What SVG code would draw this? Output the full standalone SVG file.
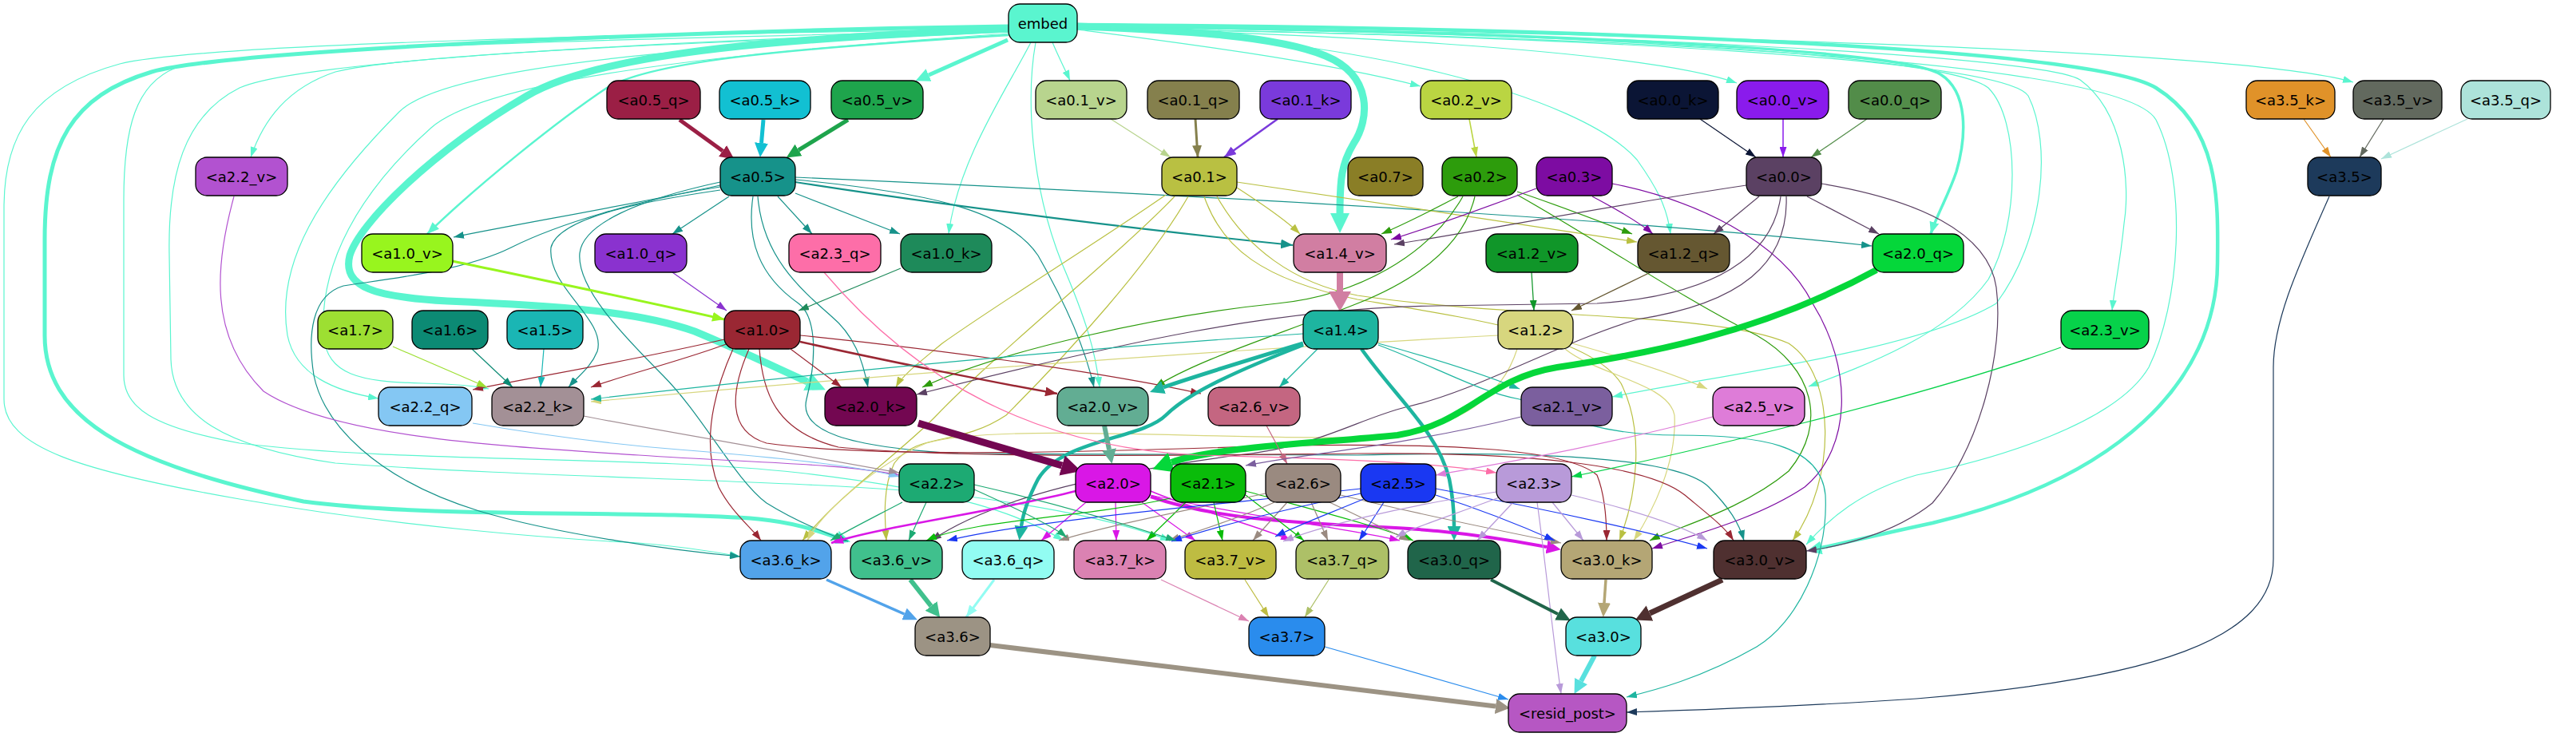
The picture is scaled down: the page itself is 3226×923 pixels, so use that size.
<svg xmlns="http://www.w3.org/2000/svg" width="3226" height="923" viewBox="0 0 3226 923">
<style>
.e path{fill:none;stroke-linecap:butt}
.n rect{stroke:#000;stroke-width:1.3}
.n text{font-family:"DejaVu Sans","Liberation Sans",sans-serif;font-size:18px;text-anchor:middle;fill:#000}
</style>
<defs>
<marker id="s5af5cf" viewBox="0 0 10 10" refX="10" refY="5" markerWidth="13" markerHeight="9" markerUnits="userSpaceOnUse" orient="auto" preserveAspectRatio="none"><path d="M0,0L10,5L0,10z" fill="#5af5cf"/></marker>
<marker id="s16928a" viewBox="0 0 10 10" refX="10" refY="5" markerWidth="13" markerHeight="9" markerUnits="userSpaceOnUse" orient="auto" preserveAspectRatio="none"><path d="M0,0L10,5L0,10z" fill="#16928a"/></marker>
<marker id="sb9c042" viewBox="0 0 10 10" refX="10" refY="5" markerWidth="13" markerHeight="9" markerUnits="userSpaceOnUse" orient="auto" preserveAspectRatio="none"><path d="M0,0L10,5L0,10z" fill="#b9c042"/></marker>
<marker id="sd7d67e" viewBox="0 0 10 10" refX="10" refY="5" markerWidth="13" markerHeight="9" markerUnits="userSpaceOnUse" orient="auto" preserveAspectRatio="none"><path d="M0,0L10,5L0,10z" fill="#d7d67e"/></marker>
<marker id="s2d9c0c" viewBox="0 0 10 10" refX="10" refY="5" markerWidth="13" markerHeight="9" markerUnits="userSpaceOnUse" orient="auto" preserveAspectRatio="none"><path d="M0,0L10,5L0,10z" fill="#2d9c0c"/></marker>
<marker id="s7d0ca2" viewBox="0 0 10 10" refX="10" refY="5" markerWidth="13" markerHeight="9" markerUnits="userSpaceOnUse" orient="auto" preserveAspectRatio="none"><path d="M0,0L10,5L0,10z" fill="#7d0ca2"/></marker>
<marker id="s5b4163" viewBox="0 0 10 10" refX="10" refY="5" markerWidth="13" markerHeight="9" markerUnits="userSpaceOnUse" orient="auto" preserveAspectRatio="none"><path d="M0,0L10,5L0,10z" fill="#5b4163"/></marker>
<marker id="s9a2733" viewBox="0 0 10 10" refX="10" refY="5" markerWidth="13" markerHeight="9" markerUnits="userSpaceOnUse" orient="auto" preserveAspectRatio="none"><path d="M0,0L10,5L0,10z" fill="#9a2733"/></marker>
<marker id="s1eb5a0" viewBox="0 0 10 10" refX="10" refY="5" markerWidth="13" markerHeight="9" markerUnits="userSpaceOnUse" orient="auto" preserveAspectRatio="none"><path d="M0,0L10,5L0,10z" fill="#1eb5a0"/></marker>
<marker id="sd917e6" viewBox="0 0 10 10" refX="10" refY="5" markerWidth="13" markerHeight="9" markerUnits="userSpaceOnUse" orient="auto" preserveAspectRatio="none"><path d="M0,0L10,5L0,10z" fill="#d917e6"/></marker>
<marker id="s0abc0a" viewBox="0 0 10 10" refX="10" refY="5" markerWidth="13" markerHeight="9" markerUnits="userSpaceOnUse" orient="auto" preserveAspectRatio="none"><path d="M0,0L10,5L0,10z" fill="#0abc0a"/></marker>
<marker id="s9a8a80" viewBox="0 0 10 10" refX="10" refY="5" markerWidth="13" markerHeight="9" markerUnits="userSpaceOnUse" orient="auto" preserveAspectRatio="none"><path d="M0,0L10,5L0,10z" fill="#9a8a80"/></marker>
<marker id="s1a38f2" viewBox="0 0 10 10" refX="10" refY="5" markerWidth="13" markerHeight="9" markerUnits="userSpaceOnUse" orient="auto" preserveAspectRatio="none"><path d="M0,0L10,5L0,10z" fill="#1a38f2"/></marker>
<marker id="sb89ad9" viewBox="0 0 10 10" refX="10" refY="5" markerWidth="13" markerHeight="9" markerUnits="userSpaceOnUse" orient="auto" preserveAspectRatio="none"><path d="M0,0L10,5L0,10z" fill="#b89ad9"/></marker>
<marker id="s1daa73" viewBox="0 0 10 10" refX="10" refY="5" markerWidth="13" markerHeight="9" markerUnits="userSpaceOnUse" orient="auto" preserveAspectRatio="none"><path d="M0,0L10,5L0,10z" fill="#1daa73"/></marker>
<marker id="sb8d48e" viewBox="0 0 10 10" refX="10" refY="5" markerWidth="13" markerHeight="9" markerUnits="userSpaceOnUse" orient="auto" preserveAspectRatio="none"><path d="M0,0L10,5L0,10z" fill="#b8d48e"/></marker>
<marker id="sbad542" viewBox="0 0 10 10" refX="10" refY="5" markerWidth="13" markerHeight="9" markerUnits="userSpaceOnUse" orient="auto" preserveAspectRatio="none"><path d="M0,0L10,5L0,10z" fill="#bad542"/></marker>
<marker id="s0b1535" viewBox="0 0 10 10" refX="10" refY="5" markerWidth="13" markerHeight="9" markerUnits="userSpaceOnUse" orient="auto" preserveAspectRatio="none"><path d="M0,0L10,5L0,10z" fill="#0b1535"/></marker>
<marker id="s8a1bec" viewBox="0 0 10 10" refX="10" refY="5" markerWidth="13" markerHeight="9" markerUnits="userSpaceOnUse" orient="auto" preserveAspectRatio="none"><path d="M0,0L10,5L0,10z" fill="#8a1bec"/></marker>
<marker id="s528c49" viewBox="0 0 10 10" refX="10" refY="5" markerWidth="13" markerHeight="9" markerUnits="userSpaceOnUse" orient="auto" preserveAspectRatio="none"><path d="M0,0L10,5L0,10z" fill="#528c49"/></marker>
<marker id="se09229" viewBox="0 0 10 10" refX="10" refY="5" markerWidth="13" markerHeight="9" markerUnits="userSpaceOnUse" orient="auto" preserveAspectRatio="none"><path d="M0,0L10,5L0,10z" fill="#e09229"/></marker>
<marker id="s62695e" viewBox="0 0 10 10" refX="10" refY="5" markerWidth="13" markerHeight="9" markerUnits="userSpaceOnUse" orient="auto" preserveAspectRatio="none"><path d="M0,0L10,5L0,10z" fill="#62695e"/></marker>
<marker id="sade3da" viewBox="0 0 10 10" refX="10" refY="5" markerWidth="13" markerHeight="9" markerUnits="userSpaceOnUse" orient="auto" preserveAspectRatio="none"><path d="M0,0L10,5L0,10z" fill="#ade3da"/></marker>
<marker id="sdb82b2" viewBox="0 0 10 10" refX="10" refY="5" markerWidth="13" markerHeight="9" markerUnits="userSpaceOnUse" orient="auto" preserveAspectRatio="none"><path d="M0,0L10,5L0,10z" fill="#db82b2"/></marker>
<marker id="sbebc42" viewBox="0 0 10 10" refX="10" refY="5" markerWidth="13" markerHeight="9" markerUnits="userSpaceOnUse" orient="auto" preserveAspectRatio="none"><path d="M0,0L10,5L0,10z" fill="#bebc42"/></marker>
<marker id="sadc067" viewBox="0 0 10 10" refX="10" refY="5" markerWidth="13" markerHeight="9" markerUnits="userSpaceOnUse" orient="auto" preserveAspectRatio="none"><path d="M0,0L10,5L0,10z" fill="#adc067"/></marker>
<marker id="s2a8ced" viewBox="0 0 10 10" refX="10" refY="5" markerWidth="13" markerHeight="9" markerUnits="userSpaceOnUse" orient="auto" preserveAspectRatio="none"><path d="M0,0L10,5L0,10z" fill="#2a8ced"/></marker>
<marker id="s1d3a5b" viewBox="0 0 10 10" refX="10" refY="5" markerWidth="13" markerHeight="9" markerUnits="userSpaceOnUse" orient="auto" preserveAspectRatio="none"><path d="M0,0L10,5L0,10z" fill="#1d3a5b"/></marker>
<marker id="sb252d0" viewBox="0 0 10 10" refX="10" refY="5" markerWidth="13" markerHeight="9" markerUnits="userSpaceOnUse" orient="auto" preserveAspectRatio="none"><path d="M0,0L10,5L0,10z" fill="#b252d0"/></marker>
<marker id="s84c7f3" viewBox="0 0 10 10" refX="10" refY="5" markerWidth="13" markerHeight="9" markerUnits="userSpaceOnUse" orient="auto" preserveAspectRatio="none"><path d="M0,0L10,5L0,10z" fill="#84c7f3"/></marker>
<marker id="sa39096" viewBox="0 0 10 10" refX="10" refY="5" markerWidth="13" markerHeight="9" markerUnits="userSpaceOnUse" orient="auto" preserveAspectRatio="none"><path d="M0,0L10,5L0,10z" fill="#a39096"/></marker>
<marker id="s8a32cf" viewBox="0 0 10 10" refX="10" refY="5" markerWidth="13" markerHeight="9" markerUnits="userSpaceOnUse" orient="auto" preserveAspectRatio="none"><path d="M0,0L10,5L0,10z" fill="#8a32cf"/></marker>
<marker id="s1e8a5a" viewBox="0 0 10 10" refX="10" refY="5" markerWidth="13" markerHeight="9" markerUnits="userSpaceOnUse" orient="auto" preserveAspectRatio="none"><path d="M0,0L10,5L0,10z" fill="#1e8a5a"/></marker>
<marker id="s9ddf32" viewBox="0 0 10 10" refX="10" refY="5" markerWidth="13" markerHeight="9" markerUnits="userSpaceOnUse" orient="auto" preserveAspectRatio="none"><path d="M0,0L10,5L0,10z" fill="#9ddf32"/></marker>
<marker id="s0c8a74" viewBox="0 0 10 10" refX="10" refY="5" markerWidth="13" markerHeight="9" markerUnits="userSpaceOnUse" orient="auto" preserveAspectRatio="none"><path d="M0,0L10,5L0,10z" fill="#0c8a74"/></marker>
<marker id="s1ab6b4" viewBox="0 0 10 10" refX="10" refY="5" markerWidth="13" markerHeight="9" markerUnits="userSpaceOnUse" orient="auto" preserveAspectRatio="none"><path d="M0,0L10,5L0,10z" fill="#1ab6b4"/></marker>
<marker id="s109629" viewBox="0 0 10 10" refX="10" refY="5" markerWidth="13" markerHeight="9" markerUnits="userSpaceOnUse" orient="auto" preserveAspectRatio="none"><path d="M0,0L10,5L0,10z" fill="#109629"/></marker>
<marker id="s655731" viewBox="0 0 10 10" refX="10" refY="5" markerWidth="13" markerHeight="9" markerUnits="userSpaceOnUse" orient="auto" preserveAspectRatio="none"><path d="M0,0L10,5L0,10z" fill="#655731"/></marker>
<marker id="s07d24a" viewBox="0 0 10 10" refX="10" refY="5" markerWidth="13" markerHeight="9" markerUnits="userSpaceOnUse" orient="auto" preserveAspectRatio="none"><path d="M0,0L10,5L0,10z" fill="#07d24a"/></marker>
<marker id="sfd6ea8" viewBox="0 0 10 10" refX="10" refY="5" markerWidth="13" markerHeight="9" markerUnits="userSpaceOnUse" orient="auto" preserveAspectRatio="none"><path d="M0,0L10,5L0,10z" fill="#fd6ea8"/></marker>
<marker id="sc46681" viewBox="0 0 10 10" refX="10" refY="5" markerWidth="13" markerHeight="9" markerUnits="userSpaceOnUse" orient="auto" preserveAspectRatio="none"><path d="M0,0L10,5L0,10z" fill="#c46681"/></marker>
<marker id="s7b5f9e" viewBox="0 0 10 10" refX="10" refY="5" markerWidth="13" markerHeight="9" markerUnits="userSpaceOnUse" orient="auto" preserveAspectRatio="none"><path d="M0,0L10,5L0,10z" fill="#7b5f9e"/></marker>
<marker id="sde7cd8" viewBox="0 0 10 10" refX="10" refY="5" markerWidth="13" markerHeight="9" markerUnits="userSpaceOnUse" orient="auto" preserveAspectRatio="none"><path d="M0,0L10,5L0,10z" fill="#de7cd8"/></marker>
<marker id="m5af5cf" viewBox="0 0 10 10" refX="10" refY="5" markerWidth="15" markerHeight="12" markerUnits="userSpaceOnUse" orient="auto" preserveAspectRatio="none"><path d="M0,0L10,5L0,10z" fill="#5af5cf"/></marker>
<marker id="m16928a" viewBox="0 0 10 10" refX="10" refY="5" markerWidth="15" markerHeight="12" markerUnits="userSpaceOnUse" orient="auto" preserveAspectRatio="none"><path d="M0,0L10,5L0,10z" fill="#16928a"/></marker>
<marker id="m85804d" viewBox="0 0 10 10" refX="10" refY="5" markerWidth="15" markerHeight="12" markerUnits="userSpaceOnUse" orient="auto" preserveAspectRatio="none"><path d="M0,0L10,5L0,10z" fill="#85804d"/></marker>
<marker id="m7a3adb" viewBox="0 0 10 10" refX="10" refY="5" markerWidth="15" markerHeight="12" markerUnits="userSpaceOnUse" orient="auto" preserveAspectRatio="none"><path d="M0,0L10,5L0,10z" fill="#7a3adb"/></marker>
<marker id="m9a2733" viewBox="0 0 10 10" refX="10" refY="5" markerWidth="15" markerHeight="12" markerUnits="userSpaceOnUse" orient="auto" preserveAspectRatio="none"><path d="M0,0L10,5L0,10z" fill="#9a2733"/></marker>
<marker id="m98f51e" viewBox="0 0 10 10" refX="10" refY="5" markerWidth="15" markerHeight="12" markerUnits="userSpaceOnUse" orient="auto" preserveAspectRatio="none"><path d="M0,0L10,5L0,10z" fill="#98f51e"/></marker>
<marker id="md917e6" viewBox="0 0 10 10" refX="10" refY="5" markerWidth="15" markerHeight="12" markerUnits="userSpaceOnUse" orient="auto" preserveAspectRatio="none"><path d="M0,0L10,5L0,10z" fill="#d917e6"/></marker>
<marker id="m92fcf2" viewBox="0 0 10 10" refX="10" refY="5" markerWidth="15" markerHeight="12" markerUnits="userSpaceOnUse" orient="auto" preserveAspectRatio="none"><path d="M0,0L10,5L0,10z" fill="#92fcf2"/></marker>
<marker id="L5af5cf" viewBox="0 0 10 10" refX="0" refY="5" markerWidth="18" markerHeight="17" markerUnits="userSpaceOnUse" orient="auto" preserveAspectRatio="none"><path d="M0,0L10,5L0,10z" fill="#5af5cf"/></marker>
<marker id="L9b1f45" viewBox="0 0 10 10" refX="0" refY="5" markerWidth="18" markerHeight="17" markerUnits="userSpaceOnUse" orient="auto" preserveAspectRatio="none"><path d="M0,0L10,5L0,10z" fill="#9b1f45"/></marker>
<marker id="L12c0d2" viewBox="0 0 10 10" refX="0" refY="5" markerWidth="18" markerHeight="17" markerUnits="userSpaceOnUse" orient="auto" preserveAspectRatio="none"><path d="M0,0L10,5L0,10z" fill="#12c0d2"/></marker>
<marker id="L1ea44c" viewBox="0 0 10 10" refX="0" refY="5" markerWidth="18" markerHeight="17" markerUnits="userSpaceOnUse" orient="auto" preserveAspectRatio="none"><path d="M0,0L10,5L0,10z" fill="#1ea44c"/></marker>
<marker id="L1eb5a0" viewBox="0 0 10 10" refX="0" refY="5" markerWidth="18" markerHeight="17" markerUnits="userSpaceOnUse" orient="auto" preserveAspectRatio="none"><path d="M0,0L10,5L0,10z" fill="#1eb5a0"/></marker>
<marker id="Ld917e6" viewBox="0 0 10 10" refX="0" refY="5" markerWidth="18" markerHeight="17" markerUnits="userSpaceOnUse" orient="auto" preserveAspectRatio="none"><path d="M0,0L10,5L0,10z" fill="#d917e6"/></marker>
<marker id="L62ad93" viewBox="0 0 10 10" refX="0" refY="5" markerWidth="18" markerHeight="18" markerUnits="userSpaceOnUse" orient="auto" preserveAspectRatio="none"><path d="M0,0L10,5L0,10z" fill="#62ad93"/></marker>
<marker id="L52a3ea" viewBox="0 0 10 10" refX="0" refY="5" markerWidth="18" markerHeight="16" markerUnits="userSpaceOnUse" orient="auto" preserveAspectRatio="none"><path d="M0,0L10,5L0,10z" fill="#52a3ea"/></marker>
<marker id="L40c08d" viewBox="0 0 10 10" refX="0" refY="5" markerWidth="18" markerHeight="19" markerUnits="userSpaceOnUse" orient="auto" preserveAspectRatio="none"><path d="M0,0L10,5L0,10z" fill="#40c08d"/></marker>
<marker id="L20654a" viewBox="0 0 10 10" refX="0" refY="5" markerWidth="18" markerHeight="17" markerUnits="userSpaceOnUse" orient="auto" preserveAspectRatio="none"><path d="M0,0L10,5L0,10z" fill="#20654a"/></marker>
<marker id="Lb4a675" viewBox="0 0 10 10" refX="0" refY="5" markerWidth="18" markerHeight="16" markerUnits="userSpaceOnUse" orient="auto" preserveAspectRatio="none"><path d="M0,0L10,5L0,10z" fill="#b4a675"/></marker>
<marker id="L58e0de" viewBox="0 0 10 10" refX="0" refY="5" markerWidth="18" markerHeight="18" markerUnits="userSpaceOnUse" orient="auto" preserveAspectRatio="none"><path d="M0,0L10,5L0,10z" fill="#58e0de"/></marker>
<marker id="L9c9384" viewBox="0 0 10 10" refX="0" refY="5" markerWidth="18" markerHeight="19" markerUnits="userSpaceOnUse" orient="auto" preserveAspectRatio="none"><path d="M0,0L10,5L0,10z" fill="#9c9384"/></marker>
<marker id="L4f3030" viewBox="0 0 10 10" refX="0" refY="5" markerWidth="20" markerHeight="21" markerUnits="userSpaceOnUse" orient="auto" preserveAspectRatio="none"><path d="M0,0L10,5L0,10z" fill="#4f3030"/></marker>
<marker id="X5af5cf" viewBox="0 0 10 10" refX="0" refY="5" markerWidth="25" markerHeight="24" markerUnits="userSpaceOnUse" orient="auto" preserveAspectRatio="none"><path d="M0,0L10,5L0,10z" fill="#5af5cf"/></marker>
<marker id="Xd17ea2" viewBox="0 0 10 10" refX="0" refY="5" markerWidth="25" markerHeight="28" markerUnits="userSpaceOnUse" orient="auto" preserveAspectRatio="none"><path d="M0,0L10,5L0,10z" fill="#d17ea2"/></marker>
<marker id="X730751" viewBox="0 0 10 10" refX="0" refY="5" markerWidth="25" markerHeight="26" markerUnits="userSpaceOnUse" orient="auto" preserveAspectRatio="none"><path d="M0,0L10,5L0,10z" fill="#730751"/></marker>
<marker id="X05d73a" viewBox="0 0 10 10" refX="0" refY="5" markerWidth="25" markerHeight="26" markerUnits="userSpaceOnUse" orient="auto" preserveAspectRatio="none"><path d="M0,0L10,5L0,10z" fill="#05d73a"/></marker>
</defs>
<rect width="3226" height="923" fill="#fff"/>
<g id="connectors" class="e">
<path d="M1262,50 L1163,94" stroke="#5af5cf" stroke-width="5" marker-end="url(#L5af5cf)"/>
<path d="M1318,53 C1325,70 1333,85 1340,101" stroke="#5af5cf" stroke-width="1.2" marker-end="url(#s5af5cf)"/>
<path d="M1291,53 C1262,110 1200,200 1188,293" stroke="#5af5cf" stroke-width="1.2" marker-end="url(#s5af5cf)"/>
<path d="M1349,33 C1480,38 1600,45 1660,70 C1720,95 1715,150 1695,180 C1680,205 1678,225 1678,267" stroke="#5af5cf" stroke-width="9" marker-end="url(#X5af5cf)"/>
<path d="M1349,37 C1450,50 1650,75 1779,108" stroke="#5af5cf" stroke-width="1.2" marker-end="url(#s5af5cf)"/>
<path d="M1349,36 C1600,40 2050,60 2175,104" stroke="#5af5cf" stroke-width="1.2" marker-end="url(#s5af5cf)"/>
<path d="M1349,35 C1700,45 1980,120 2050,200 C2075,235 2088,260 2092,293" stroke="#5af5cf" stroke-width="1.2" marker-end="url(#s5af5cf)"/>
<path d="M1349,32 C1900,40 2380,60 2430,93 C2465,115 2463,170 2450,215 C2440,245 2425,270 2418,293" stroke="#5af5cf" stroke-width="3.5" marker-end="url(#m5af5cf)"/>
<path d="M1349,34 C2000,40 2800,60 2947,103" stroke="#5af5cf" stroke-width="1.2" marker-end="url(#s5af5cf)"/>
<path d="M1349,34 C2000,40 2560,70 2605,100 C2660,140 2668,230 2660,280 C2655,330 2648,360 2645,389" stroke="#5af5cf" stroke-width="1.2" marker-end="url(#s5af5cf)"/>
<path d="M1349,31 C2000,35 2620,60 2700,110 C2780,160 2778,250 2777,330 C2776,480 2650,600 2420,655 C2350,670 2310,680 2281,686" stroke="#5af5cf" stroke-width="4.5" marker-end="url(#L5af5cf)"/>
<path d="M1349,34 C2000,40 2440,70 2490,110 C2530,150 2530,280 2490,350 C2440,420 2330,460 2265,484" stroke="#5af5cf" stroke-width="1.2" marker-end="url(#s5af5cf)"/>
<path d="M1349,35 C2000,45 2510,75 2540,120 C2570,180 2560,300 2500,380 C2400,440 2150,470 2019,497" stroke="#5af5cf" stroke-width="1.2" marker-end="url(#s5af5cf)"/>
<path d="M1349,36 C2100,45 2660,80 2700,150 C2740,230 2730,380 2691,460 C2650,530 2500,575 2400,595 C2330,615 2290,650 2262,682" stroke="#5af5cf" stroke-width="1.2" marker-end="url(#s5af5cf)"/>
<path d="M1263,40 C1000,48 520,65 420,90 C360,110 330,150 314,197" stroke="#5af5cf" stroke-width="1.2" marker-end="url(#s5af5cf)"/>
<path d="M1263,44 C1000,60 820,75 760,110 C700,150 600,230 535,293" stroke="#5af5cf" stroke-width="2.5" marker-end="url(#m5af5cf)"/>
<path d="M1263,36 C1000,48 760,62 660,120 C540,190 450,280 438,320 C428,360 470,372 560,377 C700,383 800,390 870,415 C930,440 975,462 1011,478" stroke="#5af5cf" stroke-width="9" marker-end="url(#X5af5cf)"/>
<path d="M1263,33 C900,38 300,60 190,90 C90,120 56,180 56,300 L56,420 C56,520 150,580 380,628 C550,650 800,638 950,650 C1000,655 1030,667 1048,673" stroke="#5af5cf" stroke-width="5" marker-end="url(#L5af5cf)"/>
<path d="M1263,40 C900,55 560,80 500,140 C400,240 345,330 360,420 C370,470 420,490 474,499" stroke="#5af5cf" stroke-width="1.2" marker-end="url(#s5af5cf)"/>
<path d="M1263,42 C1000,60 620,90 540,160 C450,240 400,330 405,420 C410,470 450,478 530,480 C570,481 595,483 612,487" stroke="#5af5cf" stroke-width="1.2" marker-end="url(#s5af5cf)"/>
<path d="M1263,38 C800,48 300,60 220,85 C170,105 155,160 155,250 L155,470 C155,510 190,535 300,555 C500,580 800,570 1000,592 C1200,615 1280,645 1332,677" stroke="#5af5cf" stroke-width="1.2" marker-end="url(#s5af5cf)"/>
<path d="M1263,39 C850,50 380,75 300,110 C230,145 210,220 212,320 L214,450 C216,520 280,560 420,580 C700,600 1000,600 1200,620 C1350,640 1420,660 1466,677" stroke="#5af5cf" stroke-width="1.2" marker-end="url(#s5af5cf)"/>
<path d="M1263,37 C800,42 250,55 150,80 C40,110 5,170 5,260 L5,500 C5,560 100,590 300,625 C500,660 700,675 800,680 C850,684 890,690 927,697" stroke="#5af5cf" stroke-width="1.2" marker-end="url(#s5af5cf)"/>
<path d="M1297,53 C1285,120 1290,230 1330,330 C1360,400 1372,440 1377,485" stroke="#5af5cf" stroke-width="1.2" marker-end="url(#s5af5cf)"/>
<path d="M851,150 L905,189" stroke="#9b1f45" stroke-width="5" marker-end="url(#L9b1f45)"/>
<path d="M956,150 L953.5,179" stroke="#12c0d2" stroke-width="5" marker-end="url(#L12c0d2)"/>
<path d="M1062,150 L1000,188" stroke="#1ea44c" stroke-width="5" marker-end="url(#L1ea44c)"/>
<path d="M1391,149 L1466,197" stroke="#b8d48e" stroke-width="1.2" marker-end="url(#sb8d48e)"/>
<path d="M1497,149 L1500,197" stroke="#85804d" stroke-width="3" marker-end="url(#m85804d)"/>
<path d="M1600,149 L1533,197" stroke="#7a3adb" stroke-width="2.5" marker-end="url(#m7a3adb)"/>
<path d="M1840,149 L1849,197" stroke="#bad542" stroke-width="1.5" marker-end="url(#sbad542)"/>
<path d="M2129,149 L2199,197" stroke="#0b1535" stroke-width="1.2" marker-end="url(#s0b1535)"/>
<path d="M2233,149 L2233,197" stroke="#8a1bec" stroke-width="1.5" marker-end="url(#s8a1bec)"/>
<path d="M2338,149 L2268,197" stroke="#528c49" stroke-width="1.2" marker-end="url(#s528c49)"/>
<path d="M2885,149 L2919,197" stroke="#e09229" stroke-width="1.2" marker-end="url(#se09229)"/>
<path d="M2985,149 L2955,197" stroke="#62695e" stroke-width="1.2" marker-end="url(#s62695e)"/>
<path d="M3090,149 L2982,199" stroke="#ade3da" stroke-width="1.2" marker-end="url(#sade3da)"/>
<path d="M902,232 C800,255 650,280 568,297" stroke="#16928a" stroke-width="1.2" marker-end="url(#s16928a)"/>
<path d="M913,246 L842,293" stroke="#16928a" stroke-width="1.2" marker-end="url(#s16928a)"/>
<path d="M974,246 L1017,293" stroke="#16928a" stroke-width="1.2" marker-end="url(#s16928a)"/>
<path d="M996,242 L1127,293" stroke="#16928a" stroke-width="1.2" marker-end="url(#s16928a)"/>
<path d="M996,228 C1200,260 1450,290 1619,307" stroke="#16928a" stroke-width="2.2" marker-end="url(#m16928a)"/>
<path d="M996,222 C1400,240 2000,270 2344,308" stroke="#16928a" stroke-width="1.2" marker-end="url(#s16928a)"/>
<path d="M996,225 C1150,240 1260,260 1300,320 C1340,390 1360,440 1370,485" stroke="#16928a" stroke-width="1.2" marker-end="url(#s16928a)"/>
<path d="M949,246 C955,320 1000,360 1040,395 C1070,420 1080,450 1087,485" stroke="#16928a" stroke-width="1.2" marker-end="url(#s16928a)"/>
<path d="M943,246 C935,300 950,345 1000,380 C1020,395 1025,440 1010,500 C1000,540 1060,560 1200,568 L1700,570 C1900,565 2100,570 2140,610 C2165,635 2178,655 2184,677" stroke="#16928a" stroke-width="1.2" marker-end="url(#s16928a)"/>
<path d="M902,238 C820,250 700,270 690,310 C685,360 760,400 748,440 C740,460 725,470 712,485" stroke="#16928a" stroke-width="1.2" marker-end="url(#s16928a)"/>
<path d="M902,234 C800,250 700,280 640,310 C580,340 480,350 430,358 C390,370 385,420 393,470 C405,530 470,600 600,640 C700,670 850,690 927,697" stroke="#16928a" stroke-width="1.2" marker-end="url(#s16928a)"/>
<path d="M902,228 C800,250 730,280 726,317 C722,360 780,420 830,470 C880,520 920,600 960,630 C1000,655 1040,670 1062,678" stroke="#16928a" stroke-width="1.2" marker-end="url(#s16928a)"/>
<path d="M1549,235 C1580,255 1610,275 1628,293" stroke="#b9c042" stroke-width="1.2" marker-end="url(#sb9c042)"/>
<path d="M1549,228 C1700,250 1900,280 2050,303" stroke="#b9c042" stroke-width="1.2" marker-end="url(#sb9c042)"/>
<path d="M1460,244 C1380,300 1250,380 1180,430 C1150,455 1130,470 1122,485" stroke="#b9c042" stroke-width="1.2" marker-end="url(#sb9c042)"/>
<path d="M1471,246 C1400,320 1250,440 1173,520 C1130,565 1050,620 1005,677" stroke="#b9c042" stroke-width="1.2" marker-end="url(#sb9c042)"/>
<path d="M1488,246 C1440,330 1340,440 1260,520 C1200,560 1150,540 1120,580 C1105,610 1108,650 1110,677" stroke="#b9c042" stroke-width="1.2" marker-end="url(#sb9c042)"/>
<path d="M1508,246 C1530,310 1580,350 1700,375 C1850,400 1990,420 2030,480 C2060,540 2050,620 2028,677" stroke="#b9c042" stroke-width="1.2" marker-end="url(#sb9c042)"/>
<path d="M1524,246 C1560,310 1620,355 1700,370 C1900,400 2150,390 2240,430 C2300,470 2300,600 2245,677" stroke="#b9c042" stroke-width="1.2" marker-end="url(#sb9c042)"/>
<path d="M1876,420 C1500,440 1100,470 740,503" stroke="#d7d67e" stroke-width="1.2" marker-end="url(#sd7d67e)"/>
<path d="M1969,430 C2040,450 2100,470 2138,487" stroke="#d7d67e" stroke-width="1.2" marker-end="url(#sd7d67e)"/>
<path d="M1960,437 C2000,470 2090,480 2097,520 C2100,580 2070,640 2046,677" stroke="#d7d67e" stroke-width="1.2" marker-end="url(#sd7d67e)"/>
<path d="M1900,437 C1880,500 1820,545 1700,548 C1500,550 1250,530 1160,555 C1100,580 1030,640 1011,677" stroke="#d7d67e" stroke-width="1.2" marker-end="url(#sd7d67e)"/>
<path d="M1826,246 C1790,265 1760,280 1730,293" stroke="#2d9c0c" stroke-width="1.2" marker-end="url(#s2d9c0c)"/>
<path d="M1900,240 C1960,260 2010,280 2044,293" stroke="#2d9c0c" stroke-width="1.2" marker-end="url(#s2d9c0c)"/>
<path d="M1832,246 C1790,320 1700,370 1600,380 C1450,395 1250,440 1155,485" stroke="#2d9c0c" stroke-width="1.2" marker-end="url(#s2d9c0c)"/>
<path d="M1847,246 C1830,320 1750,360 1700,380 C1600,420 1500,450 1446,485" stroke="#2d9c0c" stroke-width="1.2" marker-end="url(#s2d9c0c)"/>
<path d="M1900,244 C2000,300 2100,370 2200,420 C2270,460 2290,530 2240,590 C2180,640 2100,660 2066,677" stroke="#2d9c0c" stroke-width="1.2" marker-end="url(#s2d9c0c)"/>
<path d="M1924,236 C1860,260 1790,285 1742,300" stroke="#7d0ca2" stroke-width="1.2" marker-end="url(#s7d0ca2)"/>
<path d="M1994,246 C2030,265 2055,280 2070,293" stroke="#7d0ca2" stroke-width="1.2" marker-end="url(#s7d0ca2)"/>
<path d="M2019,230 C2120,250 2230,300 2270,380 C2320,460 2320,560 2260,610 C2200,650 2120,670 2069,687" stroke="#7d0ca2" stroke-width="1.2" marker-end="url(#s7d0ca2)"/>
<path d="M2187,232 C2000,260 1850,290 1746,306" stroke="#5b4163" stroke-width="1.2" marker-end="url(#s5b4163)"/>
<path d="M2203,246 L2146,293" stroke="#5b4163" stroke-width="1.2" marker-end="url(#s5b4163)"/>
<path d="M2263,246 L2353,293" stroke="#5b4163" stroke-width="1.2" marker-end="url(#s5b4163)"/>
<path d="M2230,246 C2220,320 2150,370 2000,380 L1800,383 C1600,385 1400,430 1148,494" stroke="#5b4163" stroke-width="1.2" marker-end="url(#s5b4163)"/>
<path d="M2237,246 C2240,330 2180,380 2050,400 C1950,430 1850,490 1760,510 C1700,525 1650,560 1550,570 C1400,590 1250,620 1166,677" stroke="#5b4163" stroke-width="1.2" marker-end="url(#s5b4163)"/>
<path d="M2281,230 C2400,250 2490,290 2500,360 C2510,440 2480,560 2420,630 C2370,670 2300,685 2262,690" stroke="#5b4163" stroke-width="1.2" marker-end="url(#s5b4163)"/>
<path d="M907,425 C800,450 680,470 592,488" stroke="#9a2733" stroke-width="1.2" marker-end="url(#s9a2733)"/>
<path d="M912,430 C860,450 780,470 740,485" stroke="#9a2733" stroke-width="1.2" marker-end="url(#s9a2733)"/>
<path d="M990,437 L1054,485" stroke="#9a2733" stroke-width="1.2" marker-end="url(#s9a2733)"/>
<path d="M1002,428 C1100,450 1250,480 1324,493" stroke="#9a2733" stroke-width="2.5" marker-end="url(#m9a2733)"/>
<path d="M1002,420 C1200,440 1400,470 1504,493" stroke="#9a2733" stroke-width="1.2" marker-end="url(#s9a2733)"/>
<path d="M918,437 C890,500 880,560 900,610 C915,640 940,660 953,677" stroke="#9a2733" stroke-width="1.2" marker-end="url(#s9a2733)"/>
<path d="M938,437 C915,490 910,540 960,555 C1100,575 1400,565 1600,558 C1800,555 1960,560 2000,595 C2010,620 2012,650 2012,677" stroke="#9a2733" stroke-width="1.2" marker-end="url(#s9a2733)"/>
<path d="M951,437 C955,490 970,540 1050,560 C1200,575 1500,570 1700,568 C1900,566 2060,580 2110,620 C2140,645 2160,660 2171,677" stroke="#9a2733" stroke-width="1.2" marker-end="url(#s9a2733)"/>
<path d="M1632,430 C1560,452 1500,470 1457,485" stroke="#1eb5a0" stroke-width="5" marker-end="url(#L1eb5a0)"/>
<path d="M1632,432 C1560,460 1490,490 1460,520 C1430,550 1330,550 1300,600 C1287,625 1281,645 1279,659" stroke="#1eb5a0" stroke-width="4.5" marker-end="url(#L1eb5a0)"/>
<path d="M1705,437 C1750,500 1800,540 1815,600 C1820,625 1821,645 1821,659" stroke="#1eb5a0" stroke-width="4.5" marker-end="url(#L1eb5a0)"/>
<path d="M1650,437 L1602,485" stroke="#1eb5a0" stroke-width="1.2" marker-end="url(#s1eb5a0)"/>
<path d="M1726,430 C1800,450 1860,470 1903,487" stroke="#1eb5a0" stroke-width="1.2" marker-end="url(#s1eb5a0)"/>
<path d="M1632,418 C1300,440 1000,470 740,500" stroke="#1eb5a0" stroke-width="1.2" marker-end="url(#s1eb5a0)"/>
<path d="M1726,432 C1800,460 1850,490 1903,500 C1950,520 2000,545 2100,545 C2200,545 2280,555 2286,620 C2290,700 2250,780 2200,810 C2130,850 2070,865 2037,873" stroke="#1eb5a0" stroke-width="1.2" marker-end="url(#s1eb5a0)"/>
<path d="M1347,615 C1250,640 1100,660 1041,680" stroke="#d917e6" stroke-width="2.5" marker-end="url(#md917e6)"/>
<path d="M1360,629 L1304,677" stroke="#d917e6" stroke-width="1.2" marker-end="url(#sd917e6)"/>
<path d="M1397,629 L1398,677" stroke="#d917e6" stroke-width="1.2" marker-end="url(#sd917e6)"/>
<path d="M1430,629 L1497,677" stroke="#d917e6" stroke-width="1.2" marker-end="url(#sd917e6)"/>
<path d="M1441,615 C1500,640 1580,660 1617,677" stroke="#d917e6" stroke-width="1.5" marker-end="url(#sd917e6)"/>
<path d="M1441,620 C1550,645 1680,660 1753,677" stroke="#d917e6" stroke-width="1.2" marker-end="url(#sd917e6)"/>
<path d="M1441,622 C1550,660 1700,655 1800,665 C1870,672 1910,680 1937,685" stroke="#d917e6" stroke-width="4" marker-end="url(#Ld917e6)"/>
<path d="M1485,629 L1436,677" stroke="#0abc0a" stroke-width="1.2" marker-end="url(#s0abc0a)"/>
<path d="M1520,629 L1531,677" stroke="#0abc0a" stroke-width="1.2" marker-end="url(#s0abc0a)"/>
<path d="M1560,620 L1633,677" stroke="#0abc0a" stroke-width="1.2" marker-end="url(#s0abc0a)"/>
<path d="M1466,624 C1350,650 1220,650 1160,677" stroke="#0abc0a" stroke-width="1.2" marker-end="url(#s0abc0a)"/>
<path d="M1560,615 C1650,640 1730,660 1770,677" stroke="#0abc0a" stroke-width="1.2" marker-end="url(#s0abc0a)"/>
<path d="M1585,618 C1480,640 1380,660 1326,677" stroke="#9a8a80" stroke-width="1.2" marker-end="url(#s9a8a80)"/>
<path d="M1596,629 C1550,650 1500,665 1464,677" stroke="#9a8a80" stroke-width="1.2" marker-end="url(#s9a8a80)"/>
<path d="M1612,629 L1569,677" stroke="#9a8a80" stroke-width="1.2" marker-end="url(#s9a8a80)"/>
<path d="M1642,629 L1663,677" stroke="#9a8a80" stroke-width="1.2" marker-end="url(#s9a8a80)"/>
<path d="M1665,629 L1765,677" stroke="#9a8a80" stroke-width="1.2" marker-end="url(#s9a8a80)"/>
<path d="M1679,620 C1780,645 1880,665 1955,680" stroke="#9a8a80" stroke-width="1.2" marker-end="url(#s9a8a80)"/>
<path d="M1704,612 C1550,630 1300,650 1186,677" stroke="#1a38f2" stroke-width="1.2" marker-end="url(#s1a38f2)"/>
<path d="M1704,618 C1600,640 1520,660 1467,678" stroke="#1a38f2" stroke-width="1.2" marker-end="url(#s1a38f2)"/>
<path d="M1710,624 C1660,645 1620,660 1597,672" stroke="#1a38f2" stroke-width="1.2" marker-end="url(#s1a38f2)"/>
<path d="M1733,629 L1702,677" stroke="#1a38f2" stroke-width="1.2" marker-end="url(#s1a38f2)"/>
<path d="M1798,620 C1860,640 1920,665 1947,677" stroke="#1a38f2" stroke-width="1.2" marker-end="url(#s1a38f2)"/>
<path d="M1798,612 C1950,640 2080,670 2138,687" stroke="#1a38f2" stroke-width="1.2" marker-end="url(#s1a38f2)"/>
<path d="M1874,616 C1750,635 1650,660 1607,678" stroke="#b89ad9" stroke-width="1.2" marker-end="url(#sb89ad9)"/>
<path d="M1880,622 C1820,645 1770,660 1748,673" stroke="#b89ad9" stroke-width="1.2" marker-end="url(#sb89ad9)"/>
<path d="M1895,629 L1850,677" stroke="#b89ad9" stroke-width="1.2" marker-end="url(#sb89ad9)"/>
<path d="M1944,629 L1983,677" stroke="#b89ad9" stroke-width="1.2" marker-end="url(#sb89ad9)"/>
<path d="M1968,620 C2050,640 2110,660 2138,677" stroke="#b89ad9" stroke-width="1.2" marker-end="url(#sb89ad9)"/>
<path d="M1925,629 C1935,700 1945,800 1955,869" stroke="#b89ad9" stroke-width="1.2" marker-end="url(#sb89ad9)"/>
<path d="M1130,629 C1090,650 1060,665 1040,677" stroke="#1daa73" stroke-width="1.2" marker-end="url(#s1daa73)"/>
<path d="M1160,629 L1138,677" stroke="#1daa73" stroke-width="1.2" marker-end="url(#s1daa73)"/>
<path d="M1220,613 C1280,640 1320,660 1336,673" stroke="#1daa73" stroke-width="1.2" marker-end="url(#s1daa73)"/>
<path d="M1220,607 C1320,630 1420,660 1473,677" stroke="#1daa73" stroke-width="1.2" marker-end="url(#s1daa73)"/>
<path d="M1035,726 L1132.5,769" stroke="#52a3ea" stroke-width="3.5" marker-end="url(#L52a3ea)"/>
<path d="M1140,726 L1166,759" stroke="#40c08d" stroke-width="6" marker-end="url(#L40c08d)"/>
<path d="M1245,726 L1210,773" stroke="#92fcf2" stroke-width="3" marker-end="url(#m92fcf2)"/>
<path d="M1454,726 L1564,778" stroke="#db82b2" stroke-width="1.2" marker-end="url(#sdb82b2)"/>
<path d="M1559,726 L1589,773" stroke="#bebc42" stroke-width="1.2" marker-end="url(#sbebc42)"/>
<path d="M1664,726 L1634,773" stroke="#adc067" stroke-width="1.2" marker-end="url(#sadc067)"/>
<path d="M1867,726 L1951,769" stroke="#20654a" stroke-width="4" marker-end="url(#L20654a)"/>
<path d="M2011,726 L2009,755" stroke="#b4a675" stroke-width="3.5" marker-end="url(#Lb4a675)"/>
<path d="M2157,726 L2066,768" stroke="#4f3030" stroke-width="7" marker-end="url(#L4f3030)"/>
<path d="M1240,808 L1873,884.5" stroke="#9c9384" stroke-width="6" marker-end="url(#L9c9384)"/>
<path d="M1659,810 L1889,876" stroke="#2a8ced" stroke-width="1.2" marker-end="url(#s2a8ced)"/>
<path d="M1997,821 L1980,853" stroke="#58e0de" stroke-width="6" marker-end="url(#L58e0de)"/>
<path d="M2917,246 C2880,330 2847,400 2847,460 L2847,700 C2847,800 2700,850 2400,875 C2250,885 2100,890 2037,892" stroke="#1d3a5b" stroke-width="1.2" marker-end="url(#s1d3a5b)"/>
<path d="M1150,530 L1330,583" stroke="#730751" stroke-width="9" marker-end="url(#X730751)"/>
<path d="M1383,533 L1389,563" stroke="#62ad93" stroke-width="6" marker-end="url(#L62ad93)"/>
<path d="M2350,338 C2200,420 2050,445 1950,460 C1860,475 1840,530 1750,545 C1650,555 1520,560 1467,579" stroke="#05d73a" stroke-width="8" marker-end="url(#X05d73a)"/>
<path d="M293,246 C270,330 260,420 330,490 C420,550 650,560 800,570 C950,580 1050,580 1126,595" stroke="#b252d0" stroke-width="1.2" marker-end="url(#sb252d0)"/>
<path d="M592,530 C680,545 760,556 850,563 C1000,575 1080,585 1126,597" stroke="#84c7f3" stroke-width="1.2" marker-end="url(#s84c7f3)"/>
<path d="M731,521 C800,535 950,560 1126,592" stroke="#a39096" stroke-width="1.2" marker-end="url(#sa39096)"/>
<path d="M567,327 C700,355 820,380 907,400" stroke="#98f51e" stroke-width="3" marker-end="url(#m98f51e)"/>
<path d="M842,341 L910,389" stroke="#8a32cf" stroke-width="1.2" marker-end="url(#s8a32cf)"/>
<path d="M1128,336 L1000,389" stroke="#1e8a5a" stroke-width="1.2" marker-end="url(#s1e8a5a)"/>
<path d="M492,434 L610,485" stroke="#9ddf32" stroke-width="1.2" marker-end="url(#s9ddf32)"/>
<path d="M591,437 L642,485" stroke="#0c8a74" stroke-width="1.2" marker-end="url(#s0c8a74)"/>
<path d="M681,437 L677,485" stroke="#1ab6b4" stroke-width="1.2" marker-end="url(#s1ab6b4)"/>
<path d="M1678,341 L1678,365" stroke="#d17ea2" stroke-width="8" marker-end="url(#Xd17ea2)"/>
<path d="M1918,341 L1921,389" stroke="#109629" stroke-width="1.2" marker-end="url(#s109629)"/>
<path d="M2067,341 L1968,389" stroke="#655731" stroke-width="1.2" marker-end="url(#s655731)"/>
<path d="M2581,435 C2400,500 2100,570 1968,597" stroke="#07d24a" stroke-width="1.2" marker-end="url(#s07d24a)"/>
<path d="M1032,341 C1150,480 1300,560 1500,570 C1700,575 1800,580 1874,592" stroke="#fd6ea8" stroke-width="1.2" marker-end="url(#sfd6ea8)"/>
<path d="M1586,533 L1612,581" stroke="#c46681" stroke-width="1.2" marker-end="url(#sc46681)"/>
<path d="M1905,522 C1750,560 1620,570 1560,583" stroke="#7b5f9e" stroke-width="1.2" marker-end="url(#s7b5f9e)"/>
<path d="M2145,522 C2000,560 1880,580 1798,595" stroke="#de7cd8" stroke-width="1.2" marker-end="url(#sde7cd8)"/>
</g>
<g id="nodes" class="n">
<g id="n-embed"><rect x="1263" y="5" width="86" height="48" rx="14" fill="#5af5cf"/><text x="1306" y="35.5">embed</text></g>
<g id="n-a0.5_q"><rect x="760" y="101" width="117" height="48" rx="14" fill="#9b1f45"/><text x="818.5" y="131.5">&lt;a0.5_q&gt;</text></g>
<g id="n-a0.5_k"><rect x="901" y="101" width="114" height="48" rx="14" fill="#12c0d2"/><text x="958" y="131.5">&lt;a0.5_k&gt;</text></g>
<g id="n-a0.5_v"><rect x="1041" y="101" width="115" height="48" rx="14" fill="#1ea44c"/><text x="1098.5" y="131.5">&lt;a0.5_v&gt;</text></g>
<g id="n-a0.1_v"><rect x="1297" y="101" width="114" height="48" rx="14" fill="#b8d48e"/><text x="1354" y="131.5">&lt;a0.1_v&gt;</text></g>
<g id="n-a0.1_q"><rect x="1437" y="101" width="115" height="48" rx="14" fill="#85804d"/><text x="1494.5" y="131.5">&lt;a0.1_q&gt;</text></g>
<g id="n-a0.1_k"><rect x="1578" y="101" width="114" height="48" rx="14" fill="#7a3adb"/><text x="1635" y="131.5">&lt;a0.1_k&gt;</text></g>
<g id="n-a0.2_v"><rect x="1779" y="101" width="114" height="48" rx="14" fill="#bad542"/><text x="1836" y="131.5">&lt;a0.2_v&gt;</text></g>
<g id="n-a0.0_k"><rect x="2038" y="101" width="114" height="48" rx="14" fill="#0b1535"/><text x="2095" y="131.5">&lt;a0.0_k&gt;</text></g>
<g id="n-a0.0_v"><rect x="2175" y="101" width="115" height="48" rx="14" fill="#8a1bec"/><text x="2232.5" y="131.5">&lt;a0.0_v&gt;</text></g>
<g id="n-a0.0_q"><rect x="2315" y="101" width="116" height="48" rx="14" fill="#528c49"/><text x="2373" y="131.5">&lt;a0.0_q&gt;</text></g>
<g id="n-a3.5_k"><rect x="2813" y="101" width="111" height="48" rx="14" fill="#e09229"/><text x="2868.5" y="131.5">&lt;a3.5_k&gt;</text></g>
<g id="n-a3.5_v"><rect x="2947" y="101" width="111" height="48" rx="14" fill="#62695e"/><text x="3002.5" y="131.5">&lt;a3.5_v&gt;</text></g>
<g id="n-a3.5_q"><rect x="3082" y="101" width="112" height="48" rx="14" fill="#ade3da"/><text x="3138" y="131.5">&lt;a3.5_q&gt;</text></g>
<g id="n-a2.2_v"><rect x="245" y="197" width="115" height="48" rx="14" fill="#b252d0"/><text x="302.5" y="227.5">&lt;a2.2_v&gt;</text></g>
<g id="n-a0.5"><rect x="902" y="197" width="94" height="48" rx="14" fill="#16928a"/><text x="949" y="227.5">&lt;a0.5&gt;</text></g>
<g id="n-a0.1"><rect x="1455" y="197" width="94" height="48" rx="14" fill="#b9c042"/><text x="1502" y="227.5">&lt;a0.1&gt;</text></g>
<g id="n-a0.7"><rect x="1688" y="197" width="94" height="48" rx="14" fill="#8a7e26"/><text x="1735" y="227.5">&lt;a0.7&gt;</text></g>
<g id="n-a0.2"><rect x="1806" y="197" width="94" height="48" rx="14" fill="#2d9c0c"/><text x="1853" y="227.5">&lt;a0.2&gt;</text></g>
<g id="n-a0.3"><rect x="1924" y="197" width="95" height="48" rx="14" fill="#7d0ca2"/><text x="1971.5" y="227.5">&lt;a0.3&gt;</text></g>
<g id="n-a0.0"><rect x="2187" y="197" width="94" height="48" rx="14" fill="#5b4163"/><text x="2234" y="227.5">&lt;a0.0&gt;</text></g>
<g id="n-a3.5"><rect x="2890" y="197" width="92" height="48" rx="14" fill="#1d3a5b"/><text x="2936" y="227.5">&lt;a3.5&gt;</text></g>
<g id="n-a1.0_v"><rect x="453" y="293" width="114" height="48" rx="14" fill="#98f51e"/><text x="510" y="323.5">&lt;a1.0_v&gt;</text></g>
<g id="n-a1.0_q"><rect x="745" y="293" width="115" height="48" rx="14" fill="#8a32cf"/><text x="802.5" y="323.5">&lt;a1.0_q&gt;</text></g>
<g id="n-a2.3_q"><rect x="988" y="293" width="115" height="48" rx="14" fill="#fd6ea8"/><text x="1045.5" y="323.5">&lt;a2.3_q&gt;</text></g>
<g id="n-a1.0_k"><rect x="1128" y="293" width="114" height="48" rx="14" fill="#1e8a5a"/><text x="1185" y="323.5">&lt;a1.0_k&gt;</text></g>
<g id="n-a1.4_v"><rect x="1620" y="293" width="116" height="48" rx="14" fill="#d17ea2"/><text x="1678" y="323.5">&lt;a1.4_v&gt;</text></g>
<g id="n-a1.2_v"><rect x="1861" y="293" width="115" height="48" rx="14" fill="#109629"/><text x="1918.5" y="323.5">&lt;a1.2_v&gt;</text></g>
<g id="n-a1.2_q"><rect x="2051" y="293" width="115" height="48" rx="14" fill="#655731"/><text x="2108.5" y="323.5">&lt;a1.2_q&gt;</text></g>
<g id="n-a2.0_q"><rect x="2345" y="293" width="114" height="48" rx="14" fill="#05d73a"/><text x="2402" y="323.5">&lt;a2.0_q&gt;</text></g>
<g id="n-a1.7"><rect x="398" y="389" width="94" height="48" rx="14" fill="#9ddf32"/><text x="445" y="419.5">&lt;a1.7&gt;</text></g>
<g id="n-a1.6"><rect x="516" y="389" width="95" height="48" rx="14" fill="#0c8a74"/><text x="563.5" y="419.5">&lt;a1.6&gt;</text></g>
<g id="n-a1.5"><rect x="635" y="389" width="95" height="48" rx="14" fill="#1ab6b4"/><text x="682.5" y="419.5">&lt;a1.5&gt;</text></g>
<g id="n-a1.0"><rect x="907" y="389" width="95" height="48" rx="14" fill="#9a2733"/><text x="954.5" y="419.5">&lt;a1.0&gt;</text></g>
<g id="n-a1.4"><rect x="1632" y="389" width="94" height="48" rx="14" fill="#1eb5a0"/><text x="1679" y="419.5">&lt;a1.4&gt;</text></g>
<g id="n-a1.2"><rect x="1876" y="389" width="94" height="48" rx="14" fill="#d7d67e"/><text x="1923" y="419.5">&lt;a1.2&gt;</text></g>
<g id="n-a2.3_v"><rect x="2581" y="389" width="110" height="48" rx="14" fill="#07d24a"/><text x="2636" y="419.5">&lt;a2.3_v&gt;</text></g>
<g id="n-a2.2_q"><rect x="474" y="485" width="117" height="48" rx="14" fill="#84c7f3"/><text x="532.5" y="515.5">&lt;a2.2_q&gt;</text></g>
<g id="n-a2.2_k"><rect x="616" y="485" width="115" height="48" rx="14" fill="#a39096"/><text x="673.5" y="515.5">&lt;a2.2_k&gt;</text></g>
<g id="n-a2.0_k"><rect x="1033" y="485" width="115" height="48" rx="14" fill="#730751"/><text x="1090.5" y="515.5">&lt;a2.0_k&gt;</text></g>
<g id="n-a2.0_v"><rect x="1324" y="485" width="114" height="48" rx="14" fill="#62ad93"/><text x="1381" y="515.5">&lt;a2.0_v&gt;</text></g>
<g id="n-a2.6_v"><rect x="1513" y="485" width="115" height="48" rx="14" fill="#c46681"/><text x="1570.5" y="515.5">&lt;a2.6_v&gt;</text></g>
<g id="n-a2.1_v"><rect x="1905" y="485" width="114" height="48" rx="14" fill="#7b5f9e"/><text x="1962" y="515.5">&lt;a2.1_v&gt;</text></g>
<g id="n-a2.5_v"><rect x="2145" y="485" width="115" height="48" rx="14" fill="#de7cd8"/><text x="2202.5" y="515.5">&lt;a2.5_v&gt;</text></g>
<g id="n-a2.2"><rect x="1126" y="581" width="94" height="48" rx="14" fill="#1daa73"/><text x="1173" y="611.5">&lt;a2.2&gt;</text></g>
<g id="n-a2.0"><rect x="1347" y="581" width="94" height="48" rx="14" fill="#d917e6"/><text x="1394" y="611.5">&lt;a2.0&gt;</text></g>
<g id="n-a2.1"><rect x="1466" y="581" width="94" height="48" rx="14" fill="#0abc0a"/><text x="1513" y="611.5">&lt;a2.1&gt;</text></g>
<g id="n-a2.6"><rect x="1585" y="581" width="94" height="48" rx="14" fill="#9a8a80"/><text x="1632" y="611.5">&lt;a2.6&gt;</text></g>
<g id="n-a2.5"><rect x="1704" y="581" width="94" height="48" rx="14" fill="#1a38f2"/><text x="1751" y="611.5">&lt;a2.5&gt;</text></g>
<g id="n-a2.3"><rect x="1874" y="581" width="94" height="48" rx="14" fill="#b89ad9"/><text x="1921" y="611.5">&lt;a2.3&gt;</text></g>
<g id="n-a3.6_k"><rect x="927" y="677" width="114" height="48" rx="14" fill="#52a3ea"/><text x="984" y="707.5">&lt;a3.6_k&gt;</text></g>
<g id="n-a3.6_v"><rect x="1065" y="677" width="115" height="48" rx="14" fill="#40c08d"/><text x="1122.5" y="707.5">&lt;a3.6_v&gt;</text></g>
<g id="n-a3.6_q"><rect x="1205" y="677" width="115" height="48" rx="14" fill="#92fcf2"/><text x="1262.5" y="707.5">&lt;a3.6_q&gt;</text></g>
<g id="n-a3.7_k"><rect x="1345" y="677" width="115" height="48" rx="14" fill="#db82b2"/><text x="1402.5" y="707.5">&lt;a3.7_k&gt;</text></g>
<g id="n-a3.7_v"><rect x="1484" y="677" width="114" height="48" rx="14" fill="#bebc42"/><text x="1541" y="707.5">&lt;a3.7_v&gt;</text></g>
<g id="n-a3.7_q"><rect x="1623" y="677" width="116" height="48" rx="14" fill="#adc067"/><text x="1681" y="707.5">&lt;a3.7_q&gt;</text></g>
<g id="n-a3.0_q"><rect x="1763" y="677" width="116" height="48" rx="14" fill="#20654a"/><text x="1821" y="707.5">&lt;a3.0_q&gt;</text></g>
<g id="n-a3.0_k"><rect x="1955" y="677" width="114" height="48" rx="14" fill="#b4a675"/><text x="2012" y="707.5">&lt;a3.0_k&gt;</text></g>
<g id="n-a3.0_v"><rect x="2146" y="677" width="116" height="48" rx="14" fill="#4f3030"/><text x="2204" y="707.5">&lt;a3.0_v&gt;</text></g>
<g id="n-a3.6"><rect x="1146" y="773" width="94" height="48" rx="14" fill="#9c9384"/><text x="1193" y="803.5">&lt;a3.6&gt;</text></g>
<g id="n-a3.7"><rect x="1564" y="773" width="95" height="48" rx="14" fill="#2a8ced"/><text x="1611.5" y="803.5">&lt;a3.7&gt;</text></g>
<g id="n-a3.0"><rect x="1961" y="773" width="94" height="48" rx="14" fill="#58e0de"/><text x="2008" y="803.5">&lt;a3.0&gt;</text></g>
<g id="n-resid_post"><rect x="1889" y="869" width="148" height="48" rx="14" fill="#b657c3"/><text x="1963" y="899.5">&lt;resid_post&gt;</text></g>
</g>
</svg>
